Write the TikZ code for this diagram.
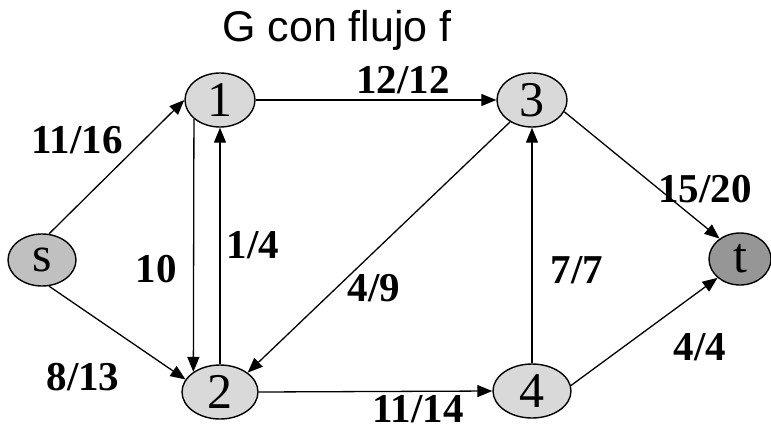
\documentclass[tikz,border=0pt]{standalone}
\usepackage{fontspec}
\setmainfont{Liberation Serif}
\newfontfamily\titlefont{Liberation Sans}
\usetikzlibrary{arrows.meta,shapes.geometric}
\definecolor{nodelight}{RGB}{217,217,217}
\definecolor{nodes}{RGB}{192,192,192}
\definecolor{nodet}{RGB}{150,150,150}
\tikzset{
  vtx/.style={ellipse,draw=black,line width=1.4pt,fill=nodelight,inner sep=0pt,
     minimum width=70pt,minimum height=54pt,font=\fontsize{50}{50}\selectfont},
  edge/.style={line width=1.3pt,-{Triangle[length=15pt,width=12pt]}},
  lbl/.style={font=\fontsize{41}{41}\selectfont\bfseries,inner sep=0pt},
}
\begin{document}
\begin{tikzpicture}[x=1pt,y=-1pt]
\useasboundingbox (0,0) rectangle (771,432);
\node[font=\titlefont\fontsize{43}{43}\selectfont,inner sep=0pt] (title) at (337,30) {G con flujo f};
\node[vtx,fill=nodes,minimum width=68pt,minimum height=52pt] (s) at (42,260) {s};
\node[vtx] (n1) at (220,100) {1};
\node[vtx,minimum width=76pt] (n2) at (220,392) {2};
\node[vtx] (n3) at (532,100) {3};
\node[vtx,minimum width=78pt] (n4) at (532,391) {4};
\node[vtx,fill=nodet,minimum width=62pt,minimum height=52pt] (t) at (740,259) {t};
\draw[edge] (s.75) -- (n1.west);
\draw[edge] (s.-75) -- (n2.160);
\draw[edge] (n1.east) -- (n3.west);
\draw[edge] (n1.216) -- (n2.143);
\draw[edge] (n2.north) -- (n1.south);
\draw[edge] (n3.225) -- (n2.35);
\draw[edge] (n2.east) -- (n4.west);
\draw[edge] (n4.north) -- (n3.south);
\draw[edge] (n3.-20) -- (t.135);
\draw[edge] (n4.8) -- (t.220);
\node[lbl] (l1) at (77,140) {11/16};
\node[lbl] (l2) at (403,80) {12/12};
\node[lbl] (l3) at (705,189) {15/20};
\node[lbl] (l4) at (156,269) {10};
\node[lbl] (l5) at (253,245) {1/4};
\node[lbl] (l6) at (374,288) {4/9};
\node[lbl] (l7) at (577,270) {7/7};
\node[lbl] (l8) at (700,347) {4/4};
\node[lbl] (l9) at (83,377) {8/13};
\node[lbl] (l10) at (418,409) {11/14};
\end{tikzpicture}
\end{document}
